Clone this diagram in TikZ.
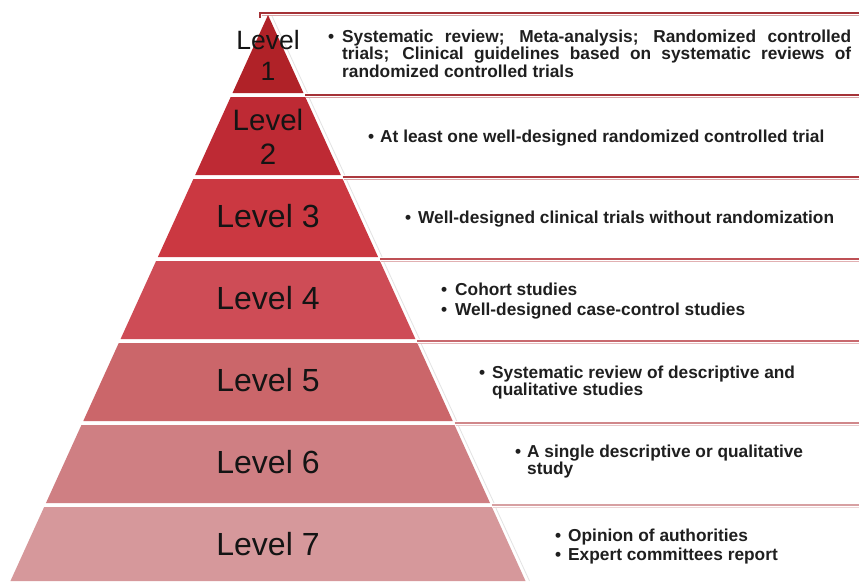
\documentclass[tikz,border=0pt]{standalone}
\usepackage{fontspec}
\setmainfont{Liberation Sans}
\definecolor{c1}{RGB}{176,34,40}
\definecolor{c2}{RGB}{190,42,52}
\definecolor{c3}{RGB}{203,56,65}
\definecolor{c4}{RGB}{206,76,86}
\definecolor{c5}{RGB}{203,102,106}
\definecolor{c6}{RGB}{207,127,131}
\definecolor{c7}{RGB}{214,152,155}
\definecolor{ln1}{RGB}{165,50,55}
\definecolor{ln2}{RGB}{172,58,63}
\definecolor{ln3}{RGB}{190,80,85}
\definecolor{ln4}{RGB}{200,105,110}
\definecolor{ln5}{RGB}{208,135,138}
\definecolor{ln6}{RGB}{215,160,162}
\begin{document}
\begin{tikzpicture}[x=1pt,y=-1pt,
  lvl/.style={font=\fontsize{32}{33}\selectfont, text=black!92, inner sep=0pt, anchor=base},
  itm/.style={font=\fontsize{17.3}{17.5}\selectfont\bfseries, text=black!88, inner sep=0pt, anchor=base west},
  sepline/.style={line width=2pt},
  shade/.style={line width=0.9pt, opacity=0.45},
  edgeglow/.style={line width=0.8pt, gray!22},
]
\def\s{0.455}
\useasboundingbox (0,0) rectangle (859,581);
\fill[white] (0,0) rectangle (859,581);
% separator lines
\draw[sepline,ln1] (260,18) -- (260,13) -- (859,13);
\draw[shade,ln1] (261.5,15.5) -- (859,15.5);
\foreach \y/\c in {95/ln1,177/ln2,259/ln3,341/ln4,423/ln5,505/ln6}{
  \draw[sepline,\c] ({268+\s*(\y-15)+1},\y) -- (859,\y);
  \draw[shade,\c] ({268+\s*(\y-15)+2},\y+2.5) -- (859,\y+2.5);
}
% pyramid slices
\foreach \t/\b/\c in {15/93/c1,97/175/c2,179/257/c3,261/339/c4,343/421/c5,425/503/c6,507/581/c7}{
  \draw[edgeglow] ({268+\s*(\t-15)+4},\t+1) -- ({268+\s*(\b-15)+4},\b);
  \fill[\c] ({268-\s*(\t-15)},\t) -- ({268+\s*(\t-15)},\t) -- ({268+\s*(\b-15)},\b) -- ({268-\s*(\b-15)},\b) -- cycle;
}
% level labels
\node[lvl, font=\fontsize{26.5}{27}\selectfont] (l1a) at (268,49) {Level};
\node[lvl, font=\fontsize{26.5}{27}\selectfont] (l1b) at (268,80) {1};
\node[lvl, font=\fontsize{29.5}{30}\selectfont] (l2a) at (268,130) {Level};
\node[lvl, font=\fontsize{29.5}{30}\selectfont] (l2b) at (268,164) {2};
\node[lvl] (l3) at (268,227) {Level 3};
\node[lvl] (l4) at (268,309) {Level 4};
\node[lvl] (l5) at (268,391) {Level 5};
\node[lvl] (l6) at (268,473) {Level 6};
\node[lvl] (l7) at (268,555) {Level 7};
% descriptions
\node[itm] (t1) at (328,42) {\begin{tabular}[t]{@{}p{14pt}@{}p{509pt}@{}}\textbullet & Systematic review; Meta-analysis; Randomized controlled\linebreak trials; Clinical guidelines based on systematic reviews of\linebreak randomized controlled trials\end{tabular}};
\node[itm] (t2) at (368,142) {\makebox[12pt][l]{\textbullet}At least one well-designed randomized controlled trial};
\node[itm] (t3) at (405,223) {\makebox[13pt][l]{\textbullet}Well-designed clinical trials without randomization};
\node[itm] (t4) at (441,295) {\begin{tabular}[t]{@{}p{14pt}@{}l@{}}\textbullet & Cohort studies\\[3pt] \textbullet & Well-designed case-control studies\end{tabular}};
\node[itm] (t5) at (479,378) {\begin{tabular}[t]{@{}p{13pt}@{}l@{}}\textbullet & Systematic review of descriptive and\\ & qualitative studies\end{tabular}};
\node[itm] (t6) at (515,457) {\begin{tabular}[t]{@{}p{12pt}@{}l@{}}\textbullet & A single descriptive or qualitative\\ & study\end{tabular}};
\node[itm] (t7) at (555,541) {\begin{tabular}[t]{@{}p{13pt}@{}l@{}}\textbullet & Opinion of authorities\\[1.5pt] \textbullet & Expert committees report\end{tabular}};
\end{tikzpicture}
\end{document}
